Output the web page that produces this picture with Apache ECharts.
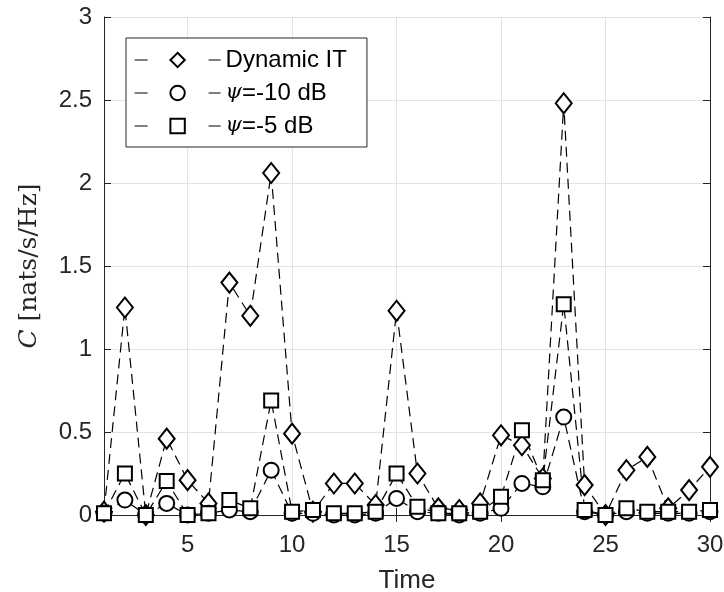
<!DOCTYPE html>
<html lang="en">

<head>
    <meta charset="UTF-8">
    <title>Capacity over time</title>
    <script src="https://cdn.jsdelivr.net/npm/echarts@6.0.0/dist/echarts.min.js"></script>
    <style>
        html, body { margin: 0; padding: 0; background: #fff; }
        #my-chart { width: 724px; height: 592px; }
    </style>
</head>

<body>
    <div id="my-chart"></div>
    <script>
        // time slots 1..30
        let timeSlots = [];
        for (let t = 1; t <= 30; t++) timeSlots.push(String(t));

        let dynamicIT = [0.02, 1.25, 0.00, 0.46, 0.21, 0.07, 1.40, 1.20, 2.06, 0.49,
            0.02, 0.19, 0.19, 0.06, 1.23, 0.25, 0.04, 0.03, 0.07, 0.48,
            0.42, 0.22, 2.48, 0.18, 0.00, 0.27, 0.35, 0.04, 0.15, 0.29];
        let psiMinus10 = [0.01, 0.09, 0.00, 0.07, 0.00, 0.01, 0.03, 0.02, 0.27, 0.01,
            0.01, 0.00, 0.00, 0.01, 0.10, 0.02, 0.01, 0.00, 0.01, 0.04,
            0.19, 0.17, 0.59, 0.02, 0.00, 0.02, 0.01, 0.01, 0.01, 0.02];
        let psiMinus5 = [0.01, 0.25, 0.00, 0.205, 0.00, 0.01, 0.09, 0.04, 0.69, 0.02,
            0.03, 0.01, 0.01, 0.02, 0.25, 0.05, 0.01, 0.01, 0.02, 0.11,
            0.51, 0.21, 1.27, 0.03, 0.00, 0.04, 0.02, 0.02, 0.02, 0.03];

        let seriesNames = ['Dynamic IT', 'ψ=-10 dB', 'ψ=-5 dB'];

        var myChart = echarts.init(document.getElementById('my-chart'));

        const axisColor = '#262626';
        const font = 'Liberation Sans, Arial, Helvetica, sans-serif';

        function makeSeries(name, data, symbol, size) {
            return {
                name: name,
                type: 'line',
                data: data,
                symbol: symbol,
                symbolSize: size,
                showAllSymbol: true,
                lineStyle: { color: '#000', width: 1.2, type: [10, 6] },
                itemStyle: { color: '#fff', borderColor: '#000', borderWidth: 2 },
                emphasis: { disabled: true },
                animation: false
            };
        }

        // only 5,10,...,30 get a label / tick / grid line
        let showTick = function (idx) { return (idx + 1) % 5 === 0; };

        let option = {
            animation: false,
            grid: { left: 104, right: 14, top: 17, bottom: 77, containLabel: false, outerBoundsMode: 'none' },
            legend: {
                left: 126,
                top: 38,
                orient: 'vertical',
                data: seriesNames,
                backgroundColor: '#fff',
                borderColor: axisColor,
                borderWidth: 1,
                padding: [10, 20, 9, 8],
                itemWidth: 86,
                itemHeight: 18,
                itemGap: 9,
                itemTextGap: 10,
                selectedMode: false,
                lineStyle: { type: [13, 24], width: 1.2, color: '#000' },
                textStyle: {
                    fontFamily: font,
                    fontSize: 24,
                    color: '#000',
                    rich: {
                        i: { fontFamily: 'DejaVu Serif, serif', fontStyle: 'italic', fontSize: 21, color: '#000' },
                        t: { fontFamily: font, fontSize: 24, color: '#000' }
                    }
                },
                formatter: function (name) {
                    if (name.charAt(0) === 'ψ') return '{i|ψ}{t|' + name.slice(1) + '}';
                    return name;
                }
            },
            xAxis: [{
                type: 'category',
                data: timeSlots,
                boundaryGap: false,
                name: 'Time',
                nameLocation: 'middle',
                nameGap: 53,
                nameTextStyle: { fontFamily: font, fontSize: 26, color: axisColor },
                axisLine: { show: true, onZero: false, lineStyle: { color: axisColor, width: 1 } },
                axisTick: { show: true, inside: true, length: 7, interval: function (i) { return showTick(i); }, lineStyle: { color: axisColor } },
                axisLabel: {
                    margin: 18,
                    fontFamily: font,
                    fontSize: 24,
                    color: axisColor,
                    interval: function (i) { return showTick(i); }
                },
                splitLine: { show: true, interval: function (i) { return showTick(i); }, lineStyle: { color: '#e3e3e3', width: 1 } }
            }, {
                type: 'category',
                data: timeSlots,
                boundaryGap: false,
                position: 'top',
                axisLine: { show: true, lineStyle: { color: axisColor, width: 1 } },
                axisTick: { show: true, inside: true, length: 7, interval: function (i) { return showTick(i); }, lineStyle: { color: axisColor } },
                axisLabel: { show: false },
                splitLine: { show: false }
            }],
            yAxis: [{
                type: 'value',
                min: 0,
                max: 3,
                interval: 0.5,
                name: '{i|C} [nats/s/Hz]',
                nameLocation: 'middle',
                nameGap: 62,
                nameRotate: 90,
                nameTextStyle: {
                    fontFamily: 'DejaVu Serif, serif',
                    fontSize: 25,
                    color: axisColor,
                    rich: {
                        i: { fontFamily: 'DejaVu Serif, serif', fontStyle: 'italic', fontSize: 25, color: axisColor }
                    }
                },
                axisLine: { show: true, lineStyle: { color: axisColor, width: 1 } },
                axisTick: { show: true, inside: true, length: 7, lineStyle: { color: axisColor } },
                axisLabel: {
                    margin: 12,
                    fontFamily: font,
                    fontSize: 24,
                    color: axisColor,
                    formatter: function (v) { return String(v); }
                },
                splitLine: { show: true, lineStyle: { color: '#e3e3e3', width: 1 } }
            }, {
                type: 'value',
                min: 0,
                max: 3,
                interval: 0.5,
                position: 'right',
                axisLine: { show: true, lineStyle: { color: axisColor, width: 1 } },
                axisTick: { show: true, inside: true, length: 7, lineStyle: { color: axisColor } },
                axisLabel: { show: false },
                splitLine: { show: false }
            }],
            series: [
                makeSeries(seriesNames[0], dynamicIT, 'diamond', [16, 20]),
                makeSeries(seriesNames[1], psiMinus10, 'circle', 15),
                makeSeries(seriesNames[2], psiMinus5, 'rect', 14)
            ]
        };

        myChart.setOption(option);
    </script>
</body>

</html>
